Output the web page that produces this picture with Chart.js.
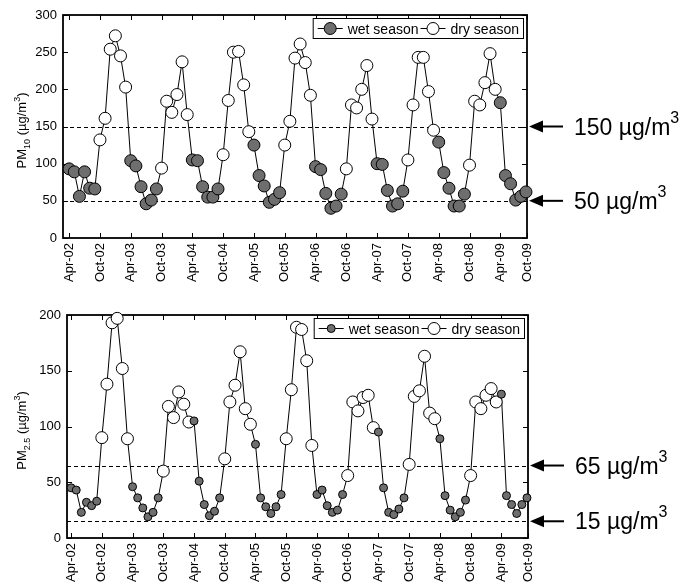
<!DOCTYPE html>
<html>
<head>
<meta charset="utf-8">
<script src="https://cdn.jsdelivr.net/npm/chart.js@4"></script>
<style>
  body { margin: 0; background: #fff; }
  #wrap { position: relative; width: 692px; height: 586px; overflow: hidden; }
  #pm10 { position: absolute; left: 0; top: 0; }
  #pm25 { position: absolute; left: 0; top: 295px; }
</style>
</head>
<body>
<div id="wrap">
  <canvas id="pm10" width="692" height="295"></canvas>
  <canvas id="pm25" width="692" height="291"></canvas>
</div>
<script>
// monthly means, Apr-02 ... Sep-09
const tickLabels = ['Apr-02','Oct-02','Apr-03','Oct-03','Apr-04','Oct-04','Apr-05','Oct-05',
                    'Apr-06','Oct-06','Apr-07','Oct-07','Apr-08','Oct-08','Apr-09','Oct-09'];
const wetMonths = ['Apr','May','Jun','Jul','Aug','Sep'];
const monthNames = ['Jan','Feb','Mar','Apr','May','Jun','Jul','Aug','Sep','Oct','Nov','Dec'];

const pm10 = [
  93, 89, 56, 89, 67, 66, 132, 161, 254,
  272, 245, 203, 104, 97, 69, 46, 51, 66, 94, 184, 169,
  193, 237, 166, 105, 104, 69, 55, 55, 66, 112, 185, 250,
  251, 206, 143, 125, 84, 70, 48, 52, 61, 125, 157, 242,
  261, 236, 192, 96, 92, 60, 40, 43, 59, 93, 179, 175,
  200, 232, 160, 100, 99, 64, 43, 46, 63, 105, 179, 243,
  243, 197, 145, 129, 88, 67, 43, 43, 59, 98, 184, 179,
  209, 248, 200, 182, 84, 73, 51, 56, 62
];
const pm25 = [
  45, 43, 23, 32, 29, 33, 90, 138, 193,
  197, 152, 89, 46, 36, 27, 19, 23, 36, 60, 118, 108,
  131, 120, 104, 105, 51, 30, 20, 24, 36, 71, 122, 137,
  167, 116, 102, 84, 36, 28, 22, 28, 39, 89, 133, 189,
  187, 159, 83, 39, 43, 29, 23, 25, 39, 56, 122, 114,
  126, 128, 99, 95, 45, 23, 21, 26, 36, 66, 127, 132,
  163, 112, 107, 89, 38, 25, 19, 23, 34, 56, 122, 116,
  128, 134, 122, 129, 38, 30, 22, 30, 36
];
const pm10Limits = [150, 50];
const pm25Limits = [65, 15];

const FONT = "'Liberation Sans', Arial, sans-serif";
const WET = '#6e6e6e';
Chart.defaults.font.family = FONT;
Chart.defaults.color = '#000';

function isWet(i) {
  return wetMonths.includes(monthNames[(3 + i) % 12]);
}

// write text pieces left to right, small ones shifted (dy) for sub/superscripts
function pieces(ctx, x, y, parts) {
  parts.forEach(p => {
    ctx.font = p.size + 'px ' + FONT;
    ctx.fillText(p.t, x, y + (p.dy || 0));
    x += ctx.measureText(p.t).width;
  });
}
function piecesWidth(ctx, parts) {
  return parts.reduce((w, p) => { ctx.font = p.size + 'px ' + FONT; return w + ctx.measureText(p.t).width; }, 0);
}

const frame = {
  id: 'frame',
  beforeDatasetsDraw(chart, args, opts) {
    const { ctx, chartArea: a, scales: { x, y } } = chart;
    ctx.save();
    ctx.strokeStyle = '#000';
    ctx.lineWidth = 1;
    ctx.setLineDash([4, 3]);
    opts.limits.forEach(v => {
      const py = Math.round(y.getPixelForValue(v)) + 0.5;
      ctx.beginPath(); ctx.moveTo(a.left, py); ctx.lineTo(a.right, py); ctx.stroke();
    });
    ctx.setLineDash([]);
    ctx.beginPath();
    x.ticks.forEach(t => {
      const px = Math.round(x.getPixelForValue(t.value)) + 0.5;
      ctx.moveTo(px, a.bottom); ctx.lineTo(px, a.bottom - 5);
      ctx.moveTo(px, a.top); ctx.lineTo(px, a.top + 5);
    });
    y.ticks.forEach(t => {
      const py = Math.round(y.getPixelForValue(t.value)) + 0.5;
      ctx.moveTo(a.left, py); ctx.lineTo(a.left + 5, py);
      ctx.moveTo(a.right, py); ctx.lineTo(a.right - 5, py);
    });
    ctx.stroke();
    ctx.lineWidth = 1.8;
    ctx.strokeRect(a.left, a.top, a.right - a.left, a.bottom - a.top);
    ctx.restore();
  },
  afterDraw(chart, args, opts) {
    const { ctx, chartArea: a, scales: { y } } = chart;
    ctx.save();
    ctx.fillStyle = '#000';
    ctx.strokeStyle = '#000';
    ctx.textBaseline = 'alphabetic';

    // arrows + limit labels
    opts.limits.forEach(v => {
      const py = y.getPixelForValue(v);
      const tip = a.right + 2;
      ctx.lineWidth = 2;
      ctx.beginPath(); ctx.moveTo(tip + 10, py); ctx.lineTo(tip + 34, py); ctx.stroke();
      ctx.beginPath();
      ctx.moveTo(tip, py); ctx.lineTo(tip + 14, py - 6); ctx.lineTo(tip + 14, py + 6);
      ctx.closePath(); ctx.fill();
      pieces(ctx, a.right + 47, py + 8, [
        { t: v + ' \u00b5g/m', size: 23 },
        { t: '3', size: 16, dy: -12 }
      ]);
    });

    // y title, rotated
    const parts = [
      { t: 'PM', size: 13 },
      { t: opts.sub, size: 9, dy: 4 },
      { t: ' (\u00b5g/m', size: 13 },
      { t: '3', size: 9, dy: -6 },
      { t: ')', size: 13 }
    ];
    const w = piecesWidth(ctx, parts);
    ctx.save();
    ctx.translate(26, (a.top + a.bottom) / 2 + 4);
    ctx.rotate(-Math.PI / 2);
    pieces(ctx, -w / 2, 0, parts);
    ctx.restore();

    // legend box
    ctx.font = '14px ' + FONT;
    const w1 = ctx.measureText('wet season').width;
    const w2 = ctx.measureText('dry season').width;
    const bw = 71 + w1 + w2, bh = 20;
    const bx = a.right - 4 - bw, by = a.top + 3;
    ctx.fillStyle = '#fff';
    ctx.fillRect(bx, by, bw, bh);
    ctx.lineWidth = 1;
    ctx.strokeRect(bx + 0.5, by + 0.5, bw, bh);
    const my = by + bh / 2 + 0.5;
    const items = [
      { label: 'wet season', fill: WET, r: opts.wetR, w: w1 },
      { label: 'dry season', fill: '#fff', r: 6, w: w2 }
    ];
    let lx = bx + 5;
    items.forEach(it => {
      ctx.beginPath(); ctx.moveTo(lx, my); ctx.lineTo(lx + 25, my); ctx.stroke();
      ctx.beginPath(); ctx.arc(lx + 12.5, my, it.r, 0, Math.PI * 2);
      ctx.fillStyle = it.fill; ctx.fill(); ctx.stroke();
      ctx.fillStyle = '#000';
      ctx.fillText(it.label, lx + 30, my + 5);
      lx += 30 + it.w + 2;
    });
    ctx.restore();
  }
};

function makeChart(id, values, cfg) {
  const colors = values.map((v, i) => isWet(i) ? WET : '#fff');
  const radii = values.map((v, i) => isWet(i) ? cfg.wetR : 6);
  return new Chart(document.getElementById(id), {
    type: 'line',
    data: {
      datasets: [{
        data: values.map((v, i) => ({ x: i, y: v })),
        borderColor: '#000',
        borderWidth: 1,
        pointBackgroundColor: colors,
        pointBorderColor: '#000',
        pointBorderWidth: 1,
        pointRadius: radii,
        tension: 0,
        clip: false
      }]
    },
    options: {
      responsive: false,
      animation: false,
      layout: { padding: { top: cfg.top, right: cfg.right, left: 0, bottom: 0 } },
      plugins: {
        legend: { display: false },
        tooltip: { enabled: false },
        frame: { limits: cfg.limits, sub: cfg.sub, wetR: cfg.wetR }
      },
      scales: {
        x: {
          type: 'linear',
          min: cfg.xmin,
          max: 89.2,
          grid: { display: false, drawTicks: false },
          border: { display: false },
          afterBuildTicks: s => { s.ticks = tickLabels.map((l, i) => ({ value: Math.min(i * 6, s.max) })); },
          afterFit: s => { s.height = cfg.xh; },
          ticks: {
            autoSkip: false, maxRotation: 90, minRotation: 90, padding: 5,
            font: { size: 13 },
            callback: (v, i) => tickLabels[i]
          }
        },
        y: {
          min: 0,
          max: cfg.ymax,
          grid: { display: false, drawTicks: false },
          border: { display: false },
          afterFit: s => { s.width = cfg.yw; },
          ticks: { stepSize: 50, padding: 6, font: { size: 13 } }
        }
      }
    },
    plugins: [frame]
  });
}

makeChart('pm10', pm10, { limits: pm10Limits, sub: '10', wetR: 6, ymax: 300,
  top: 15, right: 165, xmin: -1.2, xh: 57, yw: 63 });
makeChart('pm25', pm25, { limits: pm25Limits, sub: '2.5', wetR: 4, ymax: 200,
  top: 20, right: 164, xmin: -0.8, xh: 48, yw: 67 });
</script>
</body>
</html>
